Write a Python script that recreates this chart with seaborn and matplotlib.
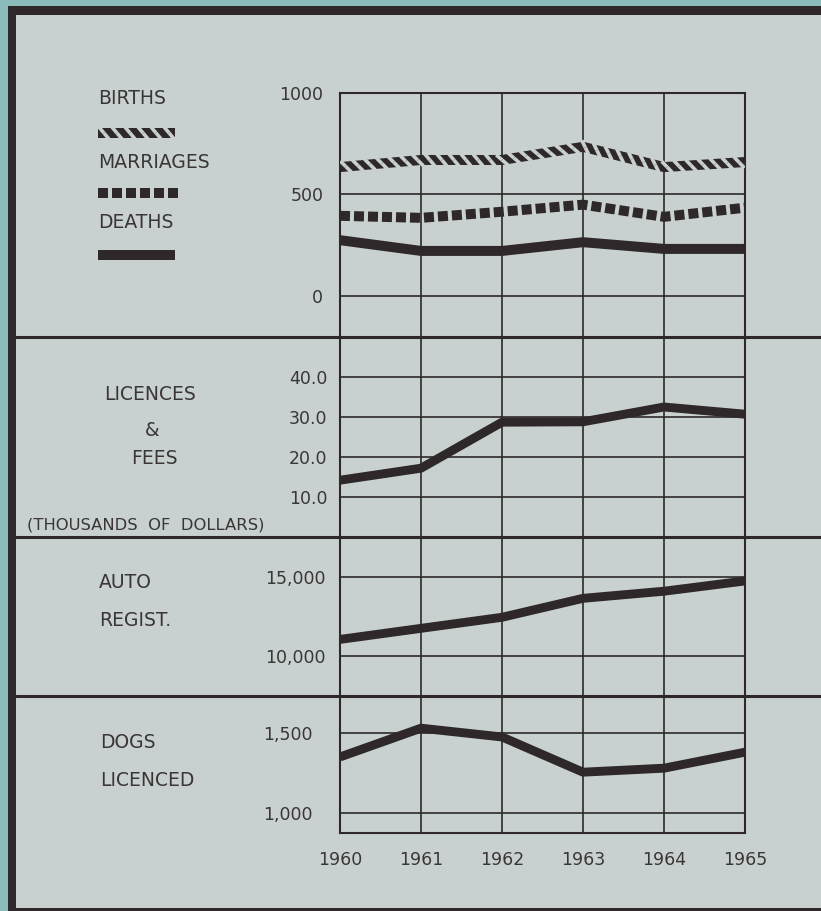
import numpy as np
import matplotlib
matplotlib.use("Agg")
import matplotlib.pyplot as plt
import matplotlib.patheffects as pe
from matplotlib.patches import Rectangle
from matplotlib.lines import Line2D
import seaborn as sns

# ---------------- data ----------------
years = [1960, 1961, 1962, 1963, 1964, 1965]
year_labels = ["1960", "1961", "1962", "1963", "1964", "1965"]
births = [635, 670, 670, 735, 635, 660]
marriages = [395, 385, 415, 450, 390, 435]
deaths = [275, 222, 222, 265, 232, 232]
licences_fees = [14.2, 17.2, 28.7, 28.8, 32.5, 30.7]
auto_regist = [11050, 11750, 12450, 13650, 14100, 14750]
dogs_licenced = [1350, 1530, 1475, 1255, 1280, 1380]

vital_ticks = [0, 500, 1000]
vital_ticklabels = ["0", "500", "1000"]
fees_ticks = [10, 20, 30, 40]
fees_ticklabels = ["10.0", "20.0", "30.0", "40.0"]
auto_ticks = [10000, 15000]
auto_ticklabels = ["10,000", "15,000"]
dogs_ticks = [1000, 1500]
dogs_ticklabels = ["1,000", "1,500"]

# ---------------- style ----------------
sns.set_style("white")
plt.rcParams["font.family"] = ["DejaVu Sans"]

W, H = 821, 911
BG = "#c9d1d0"
TEAL = "#8dbcbd"
INK = "#2e282a"
TXT = "#3a3537"

fig = plt.figure(figsize=(W / 100, H / 100), dpi=100)
fig.patch.set_facecolor(TEAL)


def fx(px):
    return px / W


def fy(py):
    return 1 - py / H


# frame
fig.add_artist(Rectangle((fx(8), 0), 1 - fx(8), fy(6), transform=fig.transFigure,
                         facecolor=INK, edgecolor="none", zorder=0))
fig.add_artist(Rectangle((fx(16), fy(908)), 1 - fx(16), fy(15) - fy(908),
                         transform=fig.transFigure, facecolor=BG, edgecolor="none", zorder=0))

X0, X1 = 340, 745


def make_ax(top, bottom):
    ax = fig.add_axes([fx(X0), fy(bottom), fx(X1) - fx(X0), fy(top) - fy(bottom)])
    ax.set_facecolor("none")
    ax.set_xlim(1960, 1965)
    ax.set_xticks(years)
    ax.grid(True, axis="both", color=INK, lw=1.2)
    for s in ax.spines.values():
        s.set_color(INK)
        s.set_linewidth(1.5)
    ax.tick_params(length=0, labelsize=12.5, labelcolor=TXT)
    ax.set_xlabel("")
    ax.set_ylabel("")
    return ax


# panel 1: vital statistics
ax1 = make_ax(93, 337)
ax1.set_ylim(-202, 1000)
ax1.spines["bottom"].set_visible(False)

lw = 7.2
sns.lineplot(x=years, y=deaths, ax=ax1, color=INK, lw=lw,
             solid_joinstyle="round", solid_capstyle="butt", zorder=5)
sns.lineplot(x=years, y=marriages, ax=ax1, color=INK, lw=lw,
             linestyle=(0, (1.0, 0.4)), dash_capstyle="butt", zorder=5)
sns.lineplot(x=years, y=births, ax=ax1, color=INK, lw=lw,
             solid_joinstyle="round", solid_capstyle="butt", zorder=5)
stripe_fx = [pe.Normal(),
             pe.TickedStroke(spacing=8.5, angle=-50, length=0.66, linewidth=2.6, foreground=BG),
             pe.TickedStroke(spacing=8.5, angle=130, length=0.66, linewidth=2.6, foreground=BG)]
ax1.lines[-1].set_path_effects(stripe_fx)
ax1.set_yticks(vital_ticks, vital_ticklabels)
ax1.tick_params(axis="y", pad=12)
ax1.tick_params(axis="x", labelbottom=False)

# panel 2: licences & fees
ax2 = make_ax(337, 537)
ax2.set_ylim(0, 50)
ax2.spines["top"].set_visible(False)
ax2.spines["bottom"].set_visible(False)
sns.lineplot(x=years, y=licences_fees, ax=ax2, color=INK, lw=6.4,
             solid_joinstyle="round", solid_capstyle="butt", zorder=5)
ax2.set_yticks(fees_ticks, fees_ticklabels)
ax2.tick_params(axis="y", pad=9)
ax2.tick_params(axis="x", labelbottom=False)

# panel 3: auto registrations
ax3 = make_ax(537, 696)
ax3.set_ylim(7468, 17532)
ax3.spines["top"].set_visible(False)
ax3.spines["bottom"].set_visible(False)
sns.lineplot(x=years, y=auto_regist, ax=ax3, color=INK, lw=6.4,
             solid_joinstyle="round", solid_capstyle="butt", zorder=5)
ax3.set_yticks(auto_ticks, auto_ticklabels)
ax3.tick_params(axis="y", pad=10)
ax3.tick_params(axis="x", labelbottom=False)

# panel 4: dogs licenced
ax4 = make_ax(696, 833)
ax4.set_ylim(875, 1731)
ax4.spines["top"].set_visible(False)
sns.lineplot(x=years, y=dogs_licenced, ax=ax4, color=INK, lw=6.4,
             solid_joinstyle="round", solid_capstyle="butt", zorder=5)
ax4.set_yticks(dogs_ticks, dogs_ticklabels)
ax4.tick_params(axis="y", pad=20)
ax4.set_xticks(years, year_labels)
ax4.tick_params(axis="x", pad=13)

# separators across full width
for ysep in (337, 537, 696):
    fig.add_artist(Line2D([fx(16), 1.0], [fy(ysep), fy(ysep)], transform=fig.transFigure,
                          color=INK, lw=2.2, zorder=3))

# legend for panel 1
fs = 13.5
fig.text(fx(98), fy(98), "BIRTHS", ha="left", va="center", fontsize=fs, color=TXT)
fig.text(fx(98), fy(162), "MARRIAGES", ha="left", va="center", fontsize=fs, color=TXT)
fig.text(fx(98), fy(222), "DEATHS", ha="left", va="center", fontsize=fs, color=TXT)
sw_b = Line2D([fx(98), fx(175)], [fy(133), fy(133)], transform=fig.transFigure,
              color=INK, lw=lw, solid_capstyle="butt")
sw_b.set_path_effects(stripe_fx)
fig.add_artist(sw_b)
fig.add_artist(Line2D([fx(98), fx(178)], [fy(193), fy(193)], transform=fig.transFigure,
                      color=INK, lw=lw, linestyle=(0, (1.0, 0.4)), dash_capstyle="butt"))
fig.add_artist(Line2D([fx(98), fx(175)], [fy(255), fy(255)], transform=fig.transFigure,
                      color=INK, lw=lw, solid_capstyle="butt"))

# panel labels
fig.text(fx(150), fy(395), "LICENCES", ha="center", va="center", fontsize=fs, color=TXT)
fig.text(fx(152), fy(431), "&", ha="center", va="center", fontsize=fs, color=TXT)
fig.text(fx(154), fy(459), "FEES", ha="center", va="center", fontsize=fs, color=TXT)
fig.text(fx(27), fy(525), "(THOUSANDS  OF  DOLLARS)", ha="left", va="center",
         fontsize=11.8, color=TXT)
fig.text(fx(99), fy(582), "AUTO", ha="left", va="center", fontsize=fs, color=TXT)
fig.text(fx(99), fy(620), "REGIST.", ha="left", va="center", fontsize=fs, color=TXT)
fig.text(fx(100), fy(743), "DOGS", ha="left", va="center", fontsize=fs, color=TXT)
fig.text(fx(100), fy(781), "LICENCED", ha="left", va="center", fontsize=fs, color=TXT)

fig.savefig("out.png", dpi=100, facecolor=fig.get_facecolor())
